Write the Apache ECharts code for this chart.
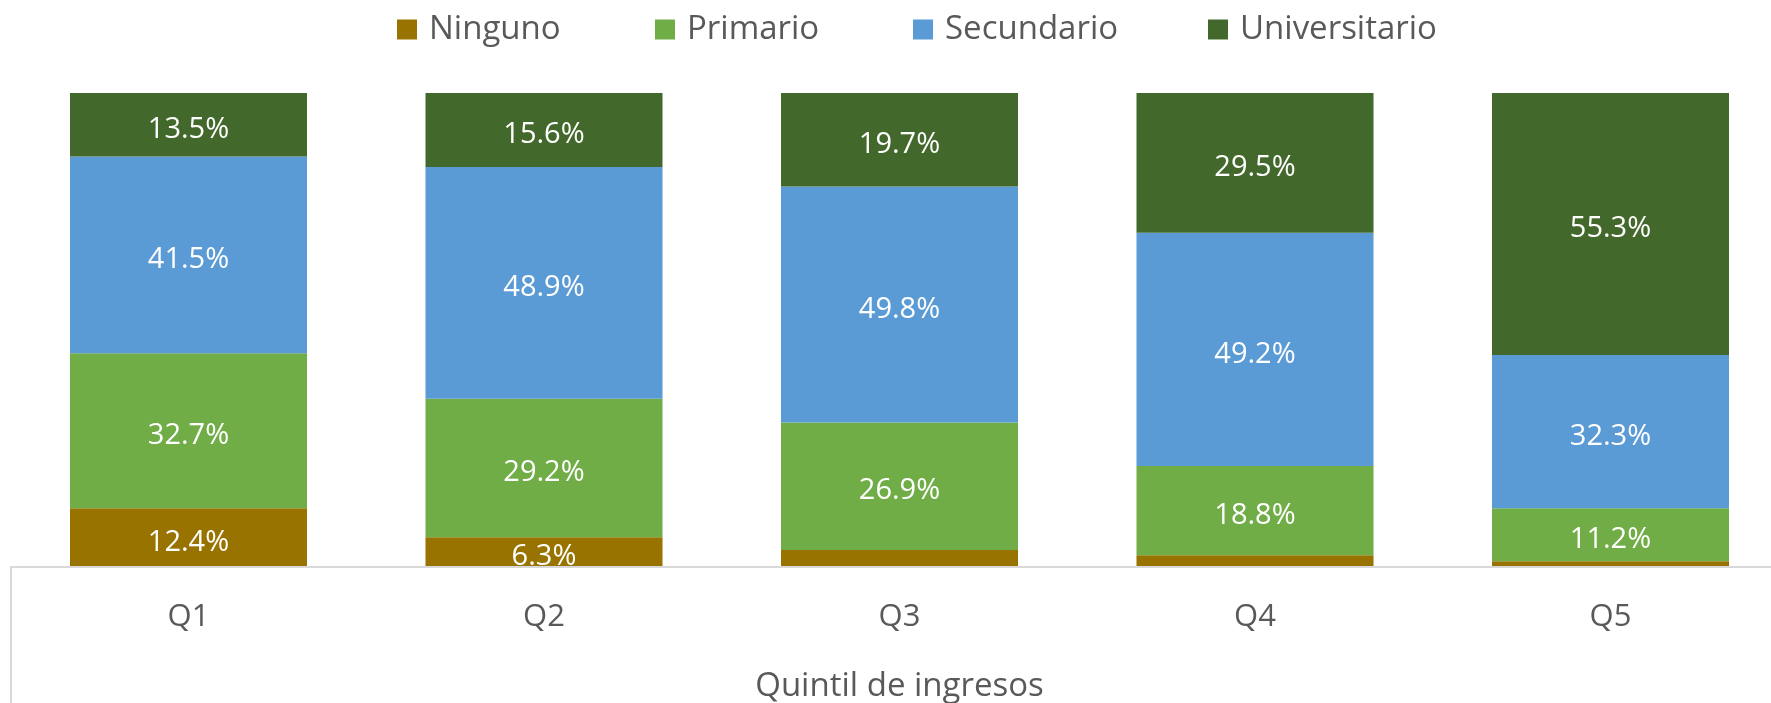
<!DOCTYPE html>
<html>
<head>
<meta charset="utf-8">
<script src="https://cdn.jsdelivr.net/npm/echarts@6/dist/echarts.min.js"></script>
<style>
html,body{margin:0;padding:0;background:#fff;}
#chart{width:1771px;height:703px;}
</style>
</head>
<body>
<div id="chart"></div>
<script>
const categories = ['Q1', 'Q2', 'Q3', 'Q4', 'Q5'];
const ninguno = [12.4, 6.3, 3.6, 2.5, 1.2];
const primario = [32.7, 29.2, 26.9, 18.8, 11.2];
const secundario = [41.5, 48.9, 49.8, 49.2, 32.3];
const universitario = [13.5, 15.6, 19.7, 29.5, 55.3];
const seriesNames = ['Ninguno', 'Primario', 'Secundario', 'Universitario'];
const seriesColors = ['#997300', '#70ad47', '#5b9bd5', '#43682b'];
const xAxisTitle = 'Quintil de ingresos';

const FONT = '"Open Sans", sans-serif';
const chart = echarts.init(document.getElementById('chart'), null, {renderer: 'canvas'});

const legendLefts = [397, 655, 913, 1208];
const legends = seriesNames.map((n, i) => ({
  data: [n],
  left: legendLefts[i],
  top: 13,
  padding: 0,
  itemWidth: 20,
  itemHeight: 20,
  icon: 'rect',
  selectedMode: false,
  textStyle: {fontFamily: FONT, fontSize: 33, color: '#595959', padding: [0, 0, 0, 7]}
}));

const dataSets = [ninguno, primario, secundario, universitario];
const series = seriesNames.map((n, i) => ({
  name: n,
  type: 'bar',
  stack: 'total',
  barWidth: 237,
  data: dataSets[i],
  itemStyle: {color: seriesColors[i]},
  label: {
    show: true,
    position: 'inside',
    offset: [0, 5],
    color: '#ffffff',
    fontFamily: FONT,
    fontSize: 29,
    formatter: p => (p.value >= 5 ? p.value.toFixed(1) + '%' : '')
  }
}));

chart.setOption({
  animation: false,
  backgroundColor: '#ffffff',
  legend: legends,
  grid: {left: 188.5, width: 1422, top: 93, bottom: 136, containLabel: false, outerBoundsMode: 'none'},
  xAxis: {
    type: 'category',
    boundaryGap: false,
    data: categories,
    axisLine: {show: false},
    axisTick: {show: false},
    axisLabel: {fontFamily: FONT, fontSize: 31, color: '#595959', margin: 35},
    name: xAxisTitle,
    nameLocation: 'middle',
    nameGap: 103,
    nameTextStyle: {fontFamily: FONT, fontSize: 33, color: '#595959'}
  },
  yAxis: {
    type: 'value',
    min: 0,
    max: 100,
    show: false
  },
  graphic: [{
    type: 'polyline',
    z: 100,
    shape: {points: [[11, 703], [11, 567], [1771, 567]]},
    style: {stroke: '#d9d9d9', lineWidth: 2, fill: null}
  }],
  series: series
});
</script>
</body>
</html>
